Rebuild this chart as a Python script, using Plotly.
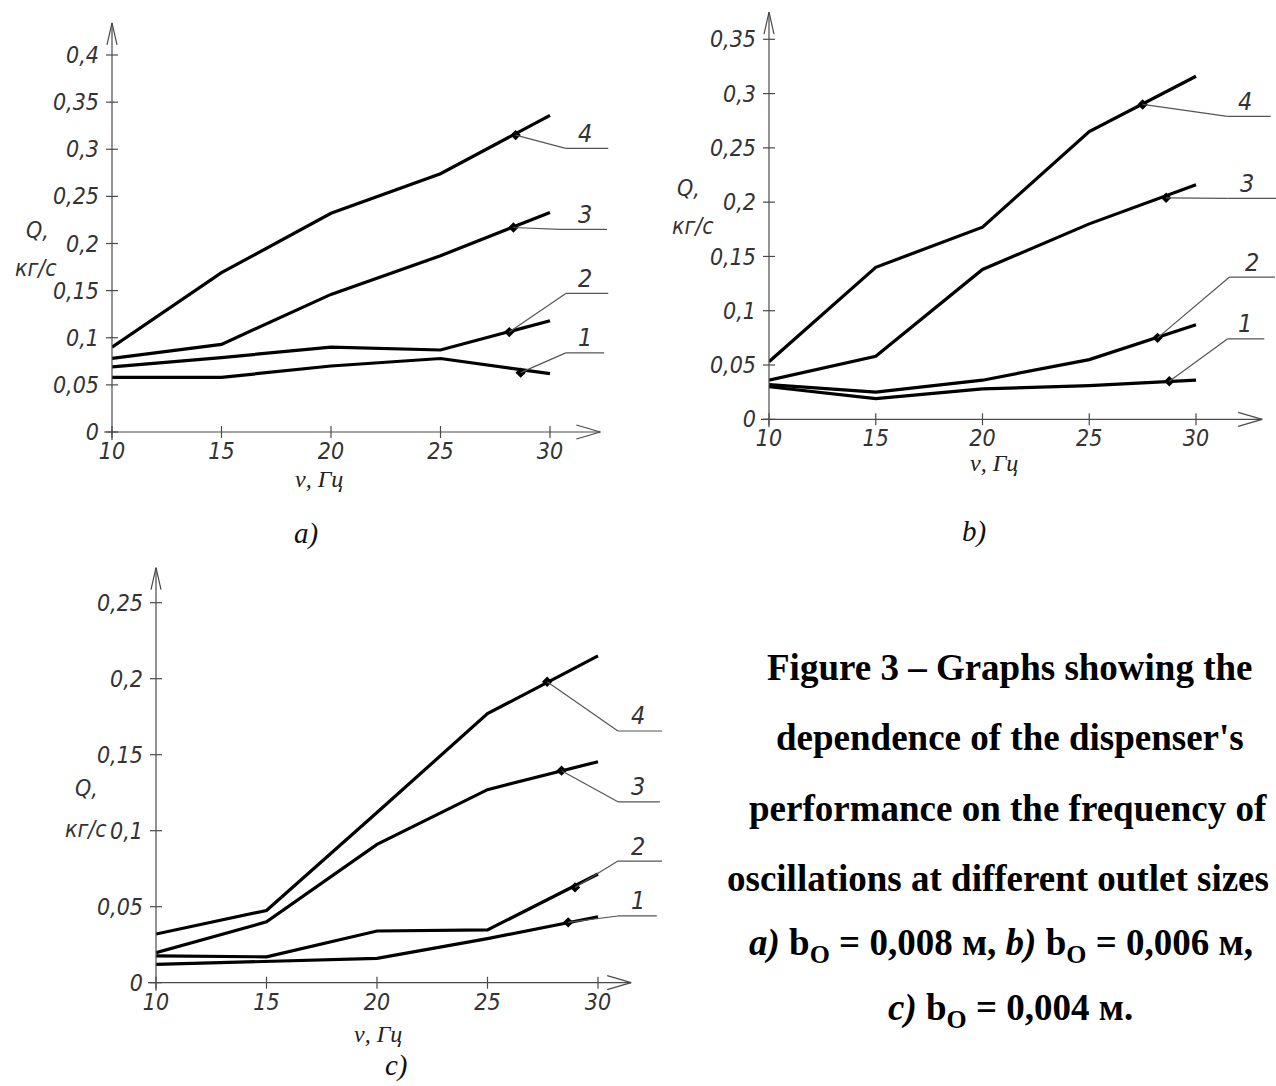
import plotly.graph_objects as go

W, H = 1276, 1086

# ---------------- data ----------------
freq = [10, 15, 20, 25, 30]
freq_ticktext = ["10", "15", "20", "25", "30"]
curve_labels = ["1", "2", "3", "4"]

# panel a) b0 = 0.008 m
a_q1 = [0.058, 0.058, 0.070, 0.078, 0.062]
a_q2 = [0.069, 0.079, 0.090, 0.087, 0.118]
a_q3 = [0.078, 0.093, 0.146, 0.187, 0.233]
a_q4 = [0.090, 0.169, 0.232, 0.274, 0.336]
a_mark_x = [28.66, 28.14, 28.33, 28.43]
a_mark_y = [0.063, 0.106, 0.217, 0.315]
a_knee_x = [30.72, 30.72, 30.45, 30.72]
a_lead_y = [0.084, 0.147, 0.215, 0.301]
a_end_x = [32.47, 32.66, 32.60, 32.66]
a_label_x = [31.6, 31.6, 31.6, 31.6]
a_qticks = [0, 0.05, 0.1, 0.15, 0.2, 0.25, 0.3, 0.35, 0.4]
a_qticktext = ["0", "0,05", "0,1", "0,15", "0,2", "0,25", "0,3", "0,35", "0,4"]

# panel b) b0 = 0.006 m
b_q1 = [0.030, 0.019, 0.028, 0.031, 0.036]
b_q2 = [0.032, 0.025, 0.036, 0.055, 0.087]
b_q3 = [0.036, 0.058, 0.138, 0.180, 0.216]
b_q4 = [0.053, 0.140, 0.177, 0.265, 0.316]
b_mark_x = [28.75, 28.20, 28.60, 27.50]
b_mark_y = [0.035, 0.075, 0.204, 0.290]
b_knee_x = [31.47, 31.57, 31.47, 31.47]
b_lead_y = [0.074, 0.131, 0.2035, 0.279]
b_end_x = [33.2, 33.7, 33.9, 33.5]
b_label_x = [32.3, 32.6, 32.4, 32.3]
b_qticks = [0, 0.05, 0.1, 0.15, 0.2, 0.25, 0.3, 0.35]
b_qticktext = ["0", "0,05", "0,1", "0,15", "0,2", "0,25", "0,3", "0,35"]

# panel c) b0 = 0.004 m
c_q1 = [0.012, 0.014, 0.016, 0.029, 0.0434]
c_q2 = [0.0176, 0.017, 0.034, 0.0347, 0.0715]
c_q3 = [0.0197, 0.040, 0.091, 0.127, 0.1454]
c_q4 = [0.032, 0.0475, 0.112, 0.177, 0.215]
c_mark_x = [28.65, 28.96, 28.35, 27.70]
c_mark_y = [0.0397, 0.0627, 0.1395, 0.198]
c_knee_x = [30.9, 30.9, 30.9, 30.9]
c_lead_y = [0.0439, 0.080, 0.119, 0.1656]
c_end_x = [32.66, 32.9, 32.8, 32.9]
c_label_x = [31.8, 31.8, 31.8, 31.8]
c_qticks = [0, 0.05, 0.1, 0.15, 0.2, 0.25]
c_qticktext = ["0", "0,05", "0,1", "0,15", "0,2", "0,25"]

caption_lines = [
    "Figure 3 – Graphs showing the",
    "dependence of the dispenser's",
    "performance on the frequency of",
    "oscillations at different outlet sizes",
    "<i>a)</i> b<sub>O</sub> = 0,008 м, <i>b)</i> b<sub>O</sub> = 0,006 м,",
    "<i>c)</i> b<sub>O</sub> = 0,004 м.",
]

# ---------------- geometry (pixel placement of each panel) ----------------
GEOM = {
    "a": dict(x10=112, x30=550, y0=432, yv=0.4, yv_px=55, xmax=33.5, ymax=0.445,
              xarrow=32.3, yarrow=0.434, ax="x", ay="y"),
    "b": dict(x10=769, x30=1196, y0=419.3, yv=0.35, yv_px=39.3, xmax=33.7, ymax=0.385,
              xarrow=33.1, yarrow=0.375, ax="x2", ay="y2"),
    "c": dict(x10=156, x30=598, y0=982.7, yv=0.25, yv_px=602.7, xmax=33.2, ymax=0.28,
              xarrow=31.5, yarrow=0.273, ax="x3", ay="y3"),
}


def to_px(p, x, y):
    g = GEOM[p]
    sx = (g["x30"] - g["x10"]) / 20.0
    sy = (g["y0"] - g["yv_px"]) / g["yv"]
    return g["x10"] + (x - 10) * sx, g["y0"] - y * sy


def pp(X, Y):
    return X / W, 1 - Y / H


TECH = "Liberation Sans Narrow, DejaVu Sans Condensed, Arial Narrow, sans-serif"
SERIF = "Liberation Serif, Times New Roman, serif"
INK = "#333333"
AXC = "#4a4a4a"

panels = {
    "a": dict(q=[a_q1, a_q2, a_q3, a_q4], mx=a_mark_x, my=a_mark_y, kx=a_knee_x,
              ly=a_lead_y, ex=a_end_x, lx=a_label_x, qt=a_qticks, qtt=a_qticktext),
    "b": dict(q=[b_q1, b_q2, b_q3, b_q4], mx=b_mark_x, my=b_mark_y, kx=b_knee_x,
              ly=b_lead_y, ex=b_end_x, lx=b_label_x, qt=b_qticks, qtt=b_qticktext),
    "c": dict(q=[c_q1, c_q2, c_q3, c_q4], mx=c_mark_x, my=c_mark_y, kx=c_knee_x,
              ly=c_lead_y, ex=c_end_x, lx=c_label_x, qt=c_qticks, qtt=c_qticktext),
}

fig = go.Figure()
shapes = []
annotations = []
layout_axes = {}


def seg(x0, y0, x1, y1, color=AXC, width=1.2):
    a0 = pp(x0, y0)
    a1 = pp(x1, y1)
    shapes.append(dict(type="line", xref="paper", yref="paper",
                       x0=a0[0], y0=a0[1], x1=a1[0], y1=a1[1],
                       line=dict(color=color, width=width)))


for p, d in panels.items():
    g = GEOM[p]
    xa, ya = g["ax"], g["ay"]
    for i, q in enumerate(d["q"]):
        fig.add_trace(go.Scatter(x=freq, y=q, mode="lines", xaxis=xa, yaxis=ya,
                                 line=dict(color="black", width=3.2), showlegend=False,
                                 name=curve_labels[i], hoverinfo="skip"))
    fig.add_trace(go.Scatter(x=d["mx"], y=d["my"], mode="markers", xaxis=xa, yaxis=ya,
                             marker=dict(symbol="diamond", size=8, color="black"),
                             showlegend=False, hoverinfo="skip"))

    X0, Y0 = to_px(p, 10, 0)
    X1, Y1 = to_px(p, g["xmax"], g["ymax"])
    xdom = [X0 / W, min(X1 / W, 1.0)]
    ydom = [1 - Y0 / H, 1 - Y1 / H]
    suffix = "" if xa == "x" else xa[1:]
    layout_axes["xaxis" + suffix] = dict(
        domain=xdom, range=[10, g["xmax"]], anchor=ya, showgrid=False, zeroline=False,
        showline=False, tickmode="array", tickvals=freq, ticktext=freq_ticktext,
        ticks="", ticklabelstandoff=3, automargin=False,
        tickfont=dict(family=TECH, size=23, color=INK, style="italic"), fixedrange=True)
    layout_axes["yaxis" + suffix] = dict(
        domain=ydom, range=[0, g["ymax"]], anchor=xa, showgrid=False, zeroline=False,
        showline=False, tickmode="array", tickvals=d["qt"], ticktext=d["qtt"],
        ticks="", ticklabelstandoff=12, automargin=False,
        tickfont=dict(family=TECH, size=23, color=INK, style="italic"), fixedrange=True)

    ox, oy = to_px(p, 10, 0)
    tx, _ = to_px(p, g["xarrow"], 0)
    _, ty = to_px(p, 10, g["yarrow"])
    seg(ox - 8, oy, tx, oy)
    seg(ox, oy + 8, ox, ty)
    seg(tx, oy, tx - 24, oy - 7)
    seg(tx, oy, tx - 24, oy + 7)
    seg(ox, ty, ox - 5, ty + 22)
    seg(ox, ty, ox + 5, ty + 22)
    for xv in freq:
        X, _ = to_px(p, xv, 0)
        seg(X, oy - 6, X, oy + 6)
    for yv in d["qt"]:
        _, Y = to_px(p, 10, yv)
        seg(ox - 6, Y, ox + 6, Y)

    for i in range(4):
        m = to_px(p, d["mx"][i], d["my"][i])
        k = to_px(p, d["kx"][i], d["ly"][i])
        e = to_px(p, d["ex"][i], d["ly"][i])
        seg(m[0], m[1], k[0], k[1], color="#555555", width=1.2)
        seg(k[0], k[1], e[0], e[1], color="#555555", width=1.2)
        annotations.append(dict(x=d["lx"][i], y=d["ly"][i], xref=xa, yref=ya,
                                text=curve_labels[i], showarrow=False,
                                yanchor="middle", yshift=15,
                                font=dict(family=TECH, size=25, color=INK, style="italic")))

text_items = [
    ("Q,", 37, 230, TECH, 23, INK),
    ("кг/с", 36, 268, TECH, 23, INK),
    ("Q,", 688, 188, TECH, 23, INK),
    ("кг/с", 693, 226, TECH, 23, INK),
    ("Q,", 86, 788, TECH, 23, INK),
    ("кг/с", 86, 829, TECH, 23, INK),
    ("ν, Гц", 319, 479, SERIF, 24, "#222222"),
    ("ν, Гц", 994, 463, SERIF, 24, "#222222"),
    ("ν, Гц", 378, 1034, SERIF, 24, "#222222"),
    ("a)", 306, 533, SERIF, 29, "#111111"),
    ("b)", 974, 531, SERIF, 29, "#111111"),
    ("c)", 396, 1065, SERIF, 29, "#111111"),
]
for t, X, Y, fam, size, col in text_items:
    px_, py_ = pp(X, Y)
    annotations.append(dict(x=px_, y=py_, xref="paper", yref="paper", text=t,
                            showarrow=False, xanchor="center", yanchor="middle",
                            font=dict(family=fam, size=size, color=col, style="italic")))

cap_x = [1010, 1010, 1008, 998, 1001, 1010]
cap_y = [667, 737, 808, 878, 945, 1010]
for t, X, Y in zip(caption_lines, cap_x, cap_y):
    px_, py_ = pp(X, Y)
    annotations.append(dict(x=px_, y=py_, xref="paper", yref="paper", text="<b>" + t + "</b>",
                            showarrow=False, xanchor="center", yanchor="middle",
                            font=dict(family=SERIF, size=37, color="black")))

fig.update_layout(
    width=W, height=H, margin=dict(l=0, r=0, t=0, b=0, autoexpand=False),
    paper_bgcolor="white", plot_bgcolor="white",
    shapes=shapes, annotations=annotations, showlegend=False,
    **layout_axes,
)

fig.write_html("out.html", config={"displayModeBar": False},
               post_script="document.body.style.margin='0px';")
